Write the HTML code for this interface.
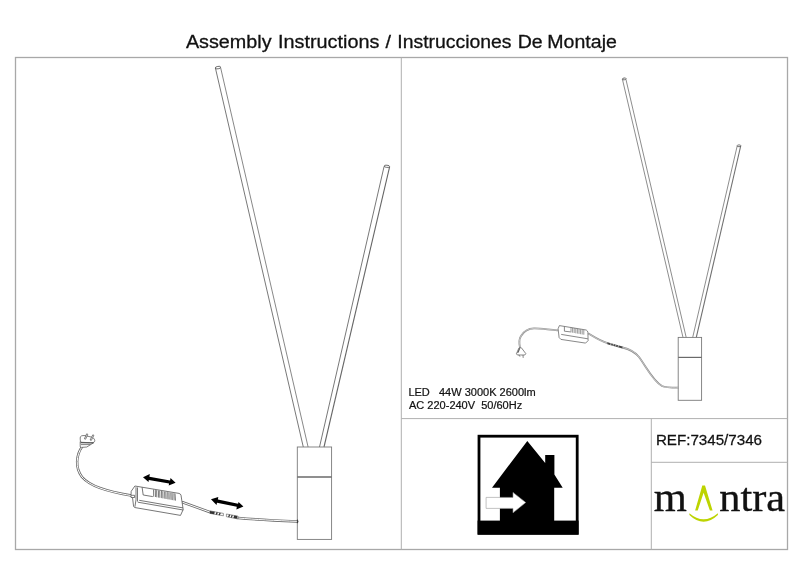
<!DOCTYPE html>
<html><head><meta charset="utf-8"><style>
html,body{margin:0;padding:0;background:#fff;}
body{width:800px;height:565px;overflow:hidden;position:relative;}
svg{position:absolute;left:0;top:0;will-change:transform;}
text{font-family:"Liberation Sans",sans-serif;}
text.serif{font-family:"Liberation Serif",serif;}
</style></head><body>
<svg width="800" height="565" viewBox="0 0 800 565">
<!-- title -->
<g fill="#111" stroke="#111" stroke-width="0.3">
<text transform="translate(185.90 48.0) scale(1.036 1)" font-size="19.1">Assembly</text>
<text transform="translate(277.96 48.0) scale(1.039 1)" font-size="19.1">Instructions</text>
<text transform="translate(385.50 48.0) scale(1.03 1)" font-size="19.1">/</text>
<text transform="translate(397.25 48.0) scale(1.016 1)" font-size="19.1">Instrucciones</text>
<text transform="translate(517.68 48.0) scale(1.024 1)" font-size="19.1">De</text>
<text transform="translate(547.33 48.0) scale(1.024 1)" font-size="19.1">Montaje</text>

</g>
<!-- frame -->
<rect x="15.5" y="57.5" width="772" height="492" fill="none" stroke="#a8a8a8" stroke-width="1.3"/>
<g fill="none" stroke="#b0b0b0" stroke-width="1">
<line x1="401.3" y1="57.5" x2="401.3" y2="549.5"/>
<line x1="401.3" y1="418.6" x2="787.5" y2="418.6"/>
<line x1="651.3" y1="418.6" x2="651.3" y2="549.5"/>
<line x1="651.3" y1="462.3" x2="787.5" y2="462.3"/>
</g>

<!-- ============ LEFT LAMP ============ -->
<g fill="none" stroke="#555" stroke-width="0.8">
<line x1="215.4" y1="68" x2="303.3" y2="447"/>
<line x1="220.7" y1="68" x2="308.1" y2="447" stroke="#6a6a6a"/>
<ellipse cx="218" cy="67.6" rx="2.8" ry="1.2" transform="rotate(-10 218 67.6)"/>
<line x1="384.1" y1="166.4" x2="319.5" y2="447"/>
<line x1="389.6" y1="166.8" x2="324" y2="447" stroke="#666" stroke-width="1.1"/>
<ellipse cx="386.9" cy="166.3" rx="2.8" ry="1.1" transform="rotate(6 386.9 166.3)"/>
<rect x="297.3" y="447" width="34.3" height="92.4" stroke="#7a7a7a" stroke-width="0.9"/>
<line x1="297.3" y1="477" x2="331.6" y2="477" stroke="#6a6a6a" stroke-width="1.3"/>
</g>

<!-- cables left (double line) -->
<g fill="none" stroke-linecap="round">
<g stroke="#6a6a6a" stroke-width="2.5">
<path d="M82.2,446.5 C76,455 75,468 82,477 C90,486 105,491 131.3,495.6"/>
<path d="M182.6,502.3 L210.2,512.2"/>
<path d="M238.2,518 C255,519.5 275,520.5 297.3,521.4"/>
</g>
<g stroke="#fff" stroke-width="1">
<path d="M82.2,446.5 C76,455 75,468 82,477 C90,486 105,491 131.3,495.6"/>
<path d="M182.6,502.3 L210.2,512.2"/>
<path d="M238.2,518 C255,519.5 275,520.5 297.3,521.4"/>
</g>
</g>

<line x1="297.4" y1="519.6" x2="297.4" y2="523.2" stroke="#333" stroke-width="1"/>
<!-- plug left -->
<g fill="#fff" stroke="#555" stroke-width="0.75" stroke-linejoin="round">
<path d="M80.2,441.5 L80.2,446.8 L81.5,447.4 L86.8,447 L93.8,442.6 Z"/>
<path d="M80.2,438 C80,436 82,435.3 85,435.6 L91.5,437.1 C94.3,437.8 95.2,440.3 94.6,441.6 C93.8,442.6 92.5,442.8 90.5,442.7 L81.5,442.3 C80.5,442 80.2,441 80.2,438 Z"/>
<path d="M80.6,442.6 L93.4,443" stroke-width="1.1" fill="none"/>
<path d="M81,444.6 L90.4,444.6" fill="none"/>
<path d="M84.4,438.8 L86.7,433.8 L87.8,434.3 L85.6,439.2 Z" />
<path d="M90.1,440 L92.8,434.8 L93.9,435.3 L91.3,440.4 Z" />
</g>

<!-- adapter left -->
<g fill="#fff" stroke="#4a4a4a" stroke-width="0.75" stroke-linejoin="round">
<path d="M134.9,486 L179,493.4 Q180.6,493.8 181,495.2 L183.2,509.5 L180.5,515.4 L134.6,507.5 L133.6,506.4 L132.5,497.5 L131,497.5 L131,495.3 L131.2,491.3 Z"/>
<path d="M131.2,495.3 L134.6,495.3 L134.6,497.5 L132.5,497.5" fill="none"/>
<path d="M136,487.2 L136,499.8 L134.9,506.8" fill="none"/>
<path d="M137.5,487.4 L137.5,501.5" fill="none"/>
<path d="M142.1,487.3 L143.2,495 L152.8,496.6" fill="none"/>
<path d="M139.2,500.3 L183,507.9" fill="none"/>
<path d="M137.8,502.2 L183.2,510" fill="none"/>
</g>
<g fill="none" stroke="#444" stroke-width="0.7">
<path d="M153.5,489.6 L153.7,496.7 M155.3,489.9 L155.5,497"/>
<path d="M156.6,490.2 L156.8,497.3 M158.4,490.5 L158.6,497.6"/>
<path d="M159.7,490.7 L159.9,497.8 M161.5,491 L161.7,498.1"/>
<path d="M162.8,491.3 L163,498.4 M164.6,491.6 L164.8,498.7"/>
<path d="M165.9,491.8 L166.1,499 M167.7,492.1 L167.9,499.3"/>
<path d="M169,492.4 L169.2,499.5 M170.8,492.7 L171,499.8"/>
<path d="M172.1,492.9 L172.3,500.1 M173.9,493.2 L174.1,500.4"/>
<path d="M175,493.5 L175.5,500.6"/>
</g>

<!-- connector left -->
<g stroke="#555" stroke-width="0.6" stroke-linejoin="round">
<path d="M210,510.9 L223.4,513.4 L223.4,515.8 L210,513.4 Z" fill="#fff"/>
<path d="M226.4,514 L238,516.2 L238.1,519 L226.4,516.7 Z" fill="#fff"/>
</g>
<g fill="#333">
<path d="M210,510.9 L214.8,511.8 L214.2,514.3 L210,513.4 Z"/>
<path d="M216.6,512.1 L217.9,512.4 L216.9,514.8 L215.6,514.6 Z"/>
<path d="M219.5,512.7 L220.8,513 L219.8,515.3 L218.5,515.1 Z"/>
<path d="M229,514.5 L230.2,514.7 L229.3,517.2 L228.1,517 Z"/>
<path d="M231.6,515 L232.8,515.2 L231.9,517.7 L230.7,517.5 Z"/>
<path d="M234.2,515.4 L237.2,516 L237.3,518.8 L233.4,518.1 Z"/>
</g>
<!-- arrows left -->
<g fill="#000">
<path d="M143,477.3 L149.8,474.1 L149.4,476.7 L170.1,480.5 L170.5,478.1 L175.6,482.8 L168.7,485.6 L169.1,483.5 L148.8,479.9 L148.5,481.9 Z"/>
<path d="M211,499.3 L218.3,496.9 L217.9,499.5 L238.1,503.8 L238.5,501.9 L243.4,506.5 L236.4,509.4 L236.8,506.8 L217,502.7 L216.5,504.9 Z"/>
</g>

<!-- ============ RIGHT LAMP ============ -->
<g fill="none" stroke="#555" stroke-width="0.8">
<line x1="622.4" y1="79.2" x2="683" y2="337.4" stroke="#707070"/>
<line x1="625.9" y1="79.2" x2="686.2" y2="337.4" stroke="#707070"/>
<ellipse cx="624.2" cy="78.9" rx="1.9" ry="0.9" transform="rotate(-10 624.2 78.9)"/>
<line x1="737.2" y1="146" x2="692.7" y2="337.4" stroke="#707070"/>
<line x1="740.7" y1="146" x2="696.3" y2="337.4" stroke="#707070" stroke-width="1.1"/>
<ellipse cx="739" cy="145.8" rx="1.9" ry="0.9"/>
<rect x="678.2" y="337.4" width="23.4" height="62.9" stroke="#7a7a7a" stroke-width="0.9"/>
<line x1="678.2" y1="357.4" x2="701.6" y2="357.4" stroke="#6a6a6a" stroke-width="1.2"/>
</g>
<g fill="none" stroke="#8c8c8c" stroke-width="1.8" stroke-linecap="round">
<path d="M520,347.7 C519,343 519,339 521,336 C524,331 528,328.6 534,328.4 C541,328.3 548,329.6 557.5,330.3"/>
<path d="M588.5,333.6 C595,337.5 600,341 607.5,343.1"/>
<path d="M622.5,347.5 C629,349 634,351 639,357 C647,368 653,381 662,386 C665,387.5 670,387.7 678.1,387.7"/>
</g>
<g fill="none" stroke="#e8e8e8" stroke-width="0.6" stroke-linecap="round">
<path d="M520,347.7 C519,343 519,339 521,336 C524,331 528,328.6 534,328.4 C541,328.3 548,329.6 557.5,330.3"/>
<path d="M588.5,333.6 C595,337.5 600,341 607.5,343.1"/>
<path d="M622.5,347.5 C629,349 634,351 639,357 C647,368 653,381 662,386 C665,387.5 670,387.7 678.1,387.7"/>
</g>
<!-- adapter right -->
<g fill="#fff" stroke="#555" stroke-width="0.7" stroke-linejoin="round">
<path d="M559.4,325.6 L586.2,330 Q587.8,330.8 587.9,332.5 L588.1,340.6 L585.6,343.1 L560.9,339.4 L559.1,337.5 L558.1,328.75 Z"/>
<path d="M564.4,326.6 L564.4,331.2 L570.6,331.9" fill="none"/>
<path d="M561.2,334.4 L587.8,338.8" fill="none"/>
</g>
<g fill="none" stroke="#555" stroke-width="0.6">
<path d="M571,327.6 L571,332.4 M572.6,327.9 L572.6,332.7 M574.2,328.2 L574.2,333 M575.8,328.5 L575.8,333.3 M577.4,328.8 L577.4,333.6 M579,329.1 L579,333.9 M580.6,329.4 L580.6,334.2 M582.2,329.7 L582.2,334.5 M583.8,330 L583.8,334.7"/>
</g>
<!-- connector right -->
<path d="M607.5,342.2 L622.5,346.4 L622.3,348.5 L607.3,344.2 Z" fill="#444"/>
<g stroke="#fff" stroke-width="0.6">
<line x1="611" y1="343" x2="610.6" y2="345"/>
<line x1="613.5" y1="343.7" x2="613.1" y2="345.7"/>
<line x1="616" y1="344.4" x2="615.6" y2="346.4"/>
<line x1="618.5" y1="345.1" x2="618.1" y2="347.1"/>
</g>
<!-- plug right -->
<g fill="#fff" stroke="#555" stroke-width="0.7" stroke-linejoin="round">
<path d="M519,347.8 L521.4,347.8 L525.8,353.6 L524.8,355 L517.4,355 L516.4,353.8 Z"/>
<path d="M519,348.2 L520.2,348.2 L518.6,352.5 L517.2,353.2 Z" fill="#555" stroke="none"/>
<path d="M518.8,354.8 L520,356.7 M523,355 L523.2,357.9" fill="none"/>
</g>

<!-- spec text -->
<text transform="translate(408.4 395.7) scale(1.076 1)" font-size="10.25" fill="#111" stroke="#111" stroke-width="0.2" xml:space="preserve">LED   44W 3000K 2600lm</text>
<text transform="translate(409 408.8) scale(1.076 1)" font-size="10.25" fill="#111" stroke="#111" stroke-width="0.2" xml:space="preserve">AC 220-240V  50/60Hz</text>

<!-- house icon -->
<rect x="479" y="436.2" width="98.2" height="97" fill="none" stroke="#000" stroke-width="2.8"/>
<rect x="477.6" y="520.6" width="101" height="14.1" fill="#000"/>
<path d="M527.3,440.9 L545.2,463 L545.2,455 L554.4,455 L554.4,474.5 L562.7,487.7 L554.2,487.7 L554.2,521 L499.9,521 L499.9,487.7 L492,487.7 Z" fill="#000"/>
<path d="M486.1,497.4 L513,497.4 L513,492.4 L525.7,502.5 L513,512.8 L513,508.4 L486.1,508.4 Z" fill="#fff" stroke="#999" stroke-width="0.6"/>

<!-- REF -->
<text transform="translate(655.9 445.3) scale(1.076 1)" font-size="14.1" fill="#111" stroke="#111" stroke-width="0.25">REF:7345/7346</text>

<!-- mantra logo -->
<g font-size="40.5" fill="#111" stroke="#111" stroke-width="0.35" style="font-family:'Liberation Serif',serif">
<text class="serif" transform="translate(653.8 510.8) scale(1.05 1)">m</text>
<text class="serif" transform="translate(719.3 510.8) scale(1.045 1)">ntra</text>
</g>
<path d="M695.1,510.6 L702.3,485.4 L705,485.4 L712.6,510.6 L709.9,510.6 L703.6,492.7 L697.7,510.6 Z" fill="#bdd400"/>
<path d="M689.4,513.2 Q703.5,525.2 717.9,513.2 L717.9,515.1 Q703.5,528.6 689.4,515.1 Z" fill="#bdd400"/>
</svg>
</body></html>
